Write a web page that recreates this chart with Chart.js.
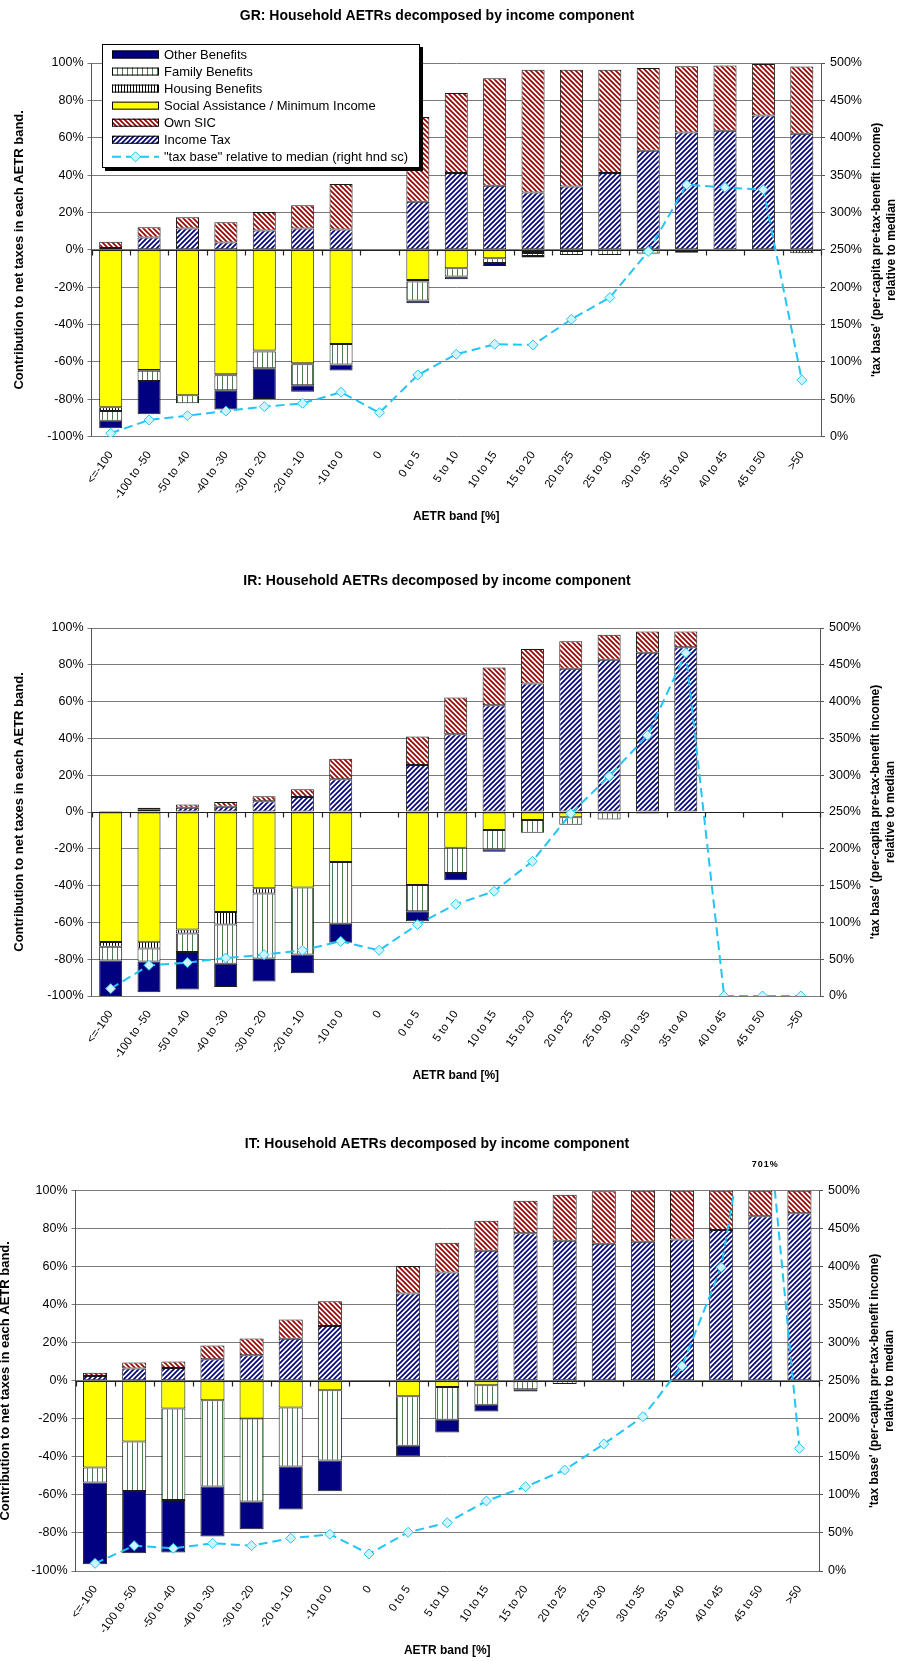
<!DOCTYPE html>
<html>
<head>
<meta charset="utf-8">
<title>Household AETRs decomposed by income component</title>
<script src="https://cdn.jsdelivr.net/npm/chart.js@4.4.0/dist/chart.umd.min.js"></script>
<style>
  body { margin: 0; background: #fff; }
  #wrap { position: relative; width: 900px; height: 1661px; overflow: hidden; }
  canvas { position: absolute; left: 0; }
</style>
</head>
<body>
<div id="wrap">
  <canvas id="grChart" width="900" height="545" style="top:0px"></canvas>
  <canvas id="irChart" width="900" height="563" style="top:545px"></canvas>
  <canvas id="itChart" width="900" height="553" style="top:1108px"></canvas>
</div>
<script>
// AETR bands (x categories)
var bands = ['<=-100', '-100 to -50', '-50 to -40', '-40 to -30', '-30 to -20', '-20 to -10', '-10 to 0', '0',
  '0 to 5', '5 to 10', '10 to 15', '15 to 20', '20 to 25', '25 to 30', '30 to 35', '35 to 40', '40 to 45', '45 to 50', '>50'];

// GR
var grIncomeTax = [1.0, 6.6, 11.4, 3.9, 10.3, 11.4, 10.9, null, 25.7, 41.1, 34.3, 30.7, 33.9, 41.1, 53.0, 62.8, 63.7, 71.9, 62.1];
var grOwnSIC = [3.4, 5.5, 6.1, 10.9, 9.9, 12.5, 24.3, null, 45.4, 42.8, 57.5, 65.7, 62.5, 55.3, 44.3, 35.4, 34.9, 27.6, 36.0];
var grSocialAssist = [-84.3, -64.3, -77.8, -66.6, -53.9, -60.7, -50.4, null, -16.1, -9.8, -4.5, -1.2, -0.6, null, null, null, null, null, null];
var grHousing = [-1.9, -0.4, null, -0.5, -0.5, -0.5, null, null, -0.9, null, null, -0.5, null, null, null, -1.2, null, null, -1.8];
var grFamily = [-5.2, -5.5, -4.3, -8.0, -9.0, -11.3, -11.0, null, -10.1, -4.5, -2.6, -1.6, -2.1, -2.7, -2.0, null, -0.8, -0.3, null];
var grOther = [-4.1, -17.8, null, -10.3, -16.4, -3.4, -3.2, null, -1.5, -1.4, -1.5, -0.8, null, null, -0.3, -0.3, null, null, null];
var grTaxBase = [4.6, 22.4, 28.1, 34.4, 40.2, 44.7, 59.5, 32.1, 82.6, 110.3, 123.7, 122.8, 157.2, 186.2, 247.8, 337.1, 333.5, 330.4, 75.9];

// IR
var irIncomeTax = [0.2, 1.2, 2.3, 2.9, 5.8, 8.2, 17.8, null, 25.6, 42.2, 58.0, 69.9, 77.9, 82.8, 86.6, 89.5, null, null, null];
var irOwnSIC = [0.2, 1.1, 1.8, 2.5, 2.7, 4.1, 11.2, null, 15.4, 20.0, 20.5, 18.7, 14.9, 13.5, 11.5, 8.6, null, null, null];
var irSocialAssist = [-70.7, -70.5, -63.8, -54.3, -41.5, -41.1, -27.2, null, -39.7, -19.4, -9.8, -4.4, -2.9, null, null, null, null, null, null];
var irHousing = [-2.5, -3.7, -2.2, -6.8, -2.8, null, null, null, null, null, null, null, null, null, null, null, null, null, null];
var irFamily = [-7.5, -7.0, -10.1, -21.4, -35.3, -36.4, -33.5, null, -14.2, -13.8, -10.5, -6.9, -4.0, -4.1, null, null, null, null, null];
var irOther = [-19.3, -16.7, -20.3, -12.6, -12.5, -10.2, -10.4, null, -5.5, -3.9, -1.3, null, null, null, -0.8, -0.5, null, null, null];
var irTaxBase = [10.0, 41.7, 45.4, 51.6, 56.2, 62.1, 74.3, 62.1, 97.0, 124.6, 142.3, 183.0, 247.8, 298.5, 354.2, 466.0, 0, 0, 0];

// IT
var itIncomeTax = [2.6, 6.5, 6.7, 11.4, 13.5, 22.1, 28.8, null, 46.0, 57.0, 68.4, 77.6, 73.7, 72.1, 73.2, 74.4, 79.3, 86.5, 88.1];
var itOwnSIC = [1.6, 3.2, 3.5, 7.2, 8.8, 10.2, 13.0, null, 14.4, 15.6, 15.8, 17.1, 24.2, 27.6, 26.8, 25.6, 20.7, 13.5, 11.9];
var itSocialAssist = [-45.6, -31.9, -14.5, -10.2, -19.8, -14.0, -4.9, null, -8.1, -3.2, -2.3, null, null, null, null, null, null, null, null];
var itHousing = [null, null, null, null, null, null, null, null, null, null, null, null, null, null, null, null, null, null, null];
var itFamily = [-7.9, -26.0, -48.1, -45.4, -43.7, -31.1, -37.0, null, -26.0, -17.3, -10.3, -4.4, -1.6, -0.5, null, null, null, null, null];
var itOther = [-43.0, -32.8, -27.7, -26.3, -14.6, -22.6, -16.2, null, -5.7, -6.7, -3.5, -1.2, null, null, null, null, null, null, null];
var itTaxBase = [10.1, 33.3, 29.8, 36.4, 33.3, 43.0, 48.3, 22.4, 50.9, 63.5, 92.0, 110.8, 132.8, 167.0, 202.9, 269.5, 399.3, 701.0, 161.3];

var FONT = '"Liberation Sans", Arial, sans-serif';
var LINE_COLOR = '#22C5F5';

// fill patterns like the excel ones
function makePattern(kind) {
  var c = document.createElement('canvas');
  var p = c.getContext('2d');
  if (kind === 'tax' || kind === 'sic') {
    var s = 5;
    c.width = s; c.height = s;
    p.fillStyle = '#fff';
    p.fillRect(0, 0, s, s);
    p.strokeStyle = kind === 'tax' ? '#000080' : '#990000';
    p.lineWidth = 1.7;
    p.beginPath();
    if (kind === 'tax') {
      p.moveTo(-1, s + 1); p.lineTo(s + 1, -1);
      p.moveTo(-2, 2); p.lineTo(2, -2);
      p.moveTo(s - 2, s + 2); p.lineTo(s + 2, s - 2);
    } else {
      p.moveTo(-1, -1); p.lineTo(s + 1, s + 1);
      p.moveTo(s - 2, -2); p.lineTo(s + 2, 2);
      p.moveTo(-2, s - 2); p.lineTo(2, s + 2);
    }
    p.stroke();
  } else if (kind === 'family') {
    c.width = 5; c.height = 4;
    p.fillStyle = '#fff';
    p.fillRect(0, 0, 5, 4);
    p.fillStyle = '#4f7a4f';
    p.fillRect(2, 0, 1, 4);
  } else {
    c.width = 3; c.height = 4;
    p.fillStyle = '#fff';
    p.fillRect(0, 0, 3, 4);
    p.fillStyle = '#000';
    p.fillRect(1, 0, 1, 4);
  }
  return document.createElement('canvas').getContext('2d').createPattern(c, 'repeat');
}

var fills = {
  tax: makePattern('tax'),
  sic: makePattern('sic'),
  family: makePattern('family'),
  housing: makePattern('housing'),
  social: '#FFFF00',
  other: '#000080'
};

// titles and axis titles
var chartTexts = {
  id: 'chartTexts',
  afterDraw: function(chart, args, o) {
    var a = chart.chartArea;
    var ctx = chart.ctx;
    ctx.save();
    ctx.fillStyle = '#000';
    ctx.textAlign = 'center';
    ctx.textBaseline = 'middle';
    ctx.font = 'bold 14px ' + FONT;
    ctx.fillText(o.title, 437, a.top - 47);
    ctx.font = 'bold 12px ' + FONT;
    ctx.fillText('AETR band [%]', (a.left + a.right) / 2, a.bottom + 80);

    ctx.save();
    ctx.translate(o.leftX, (a.top + a.bottom) / 2);
    ctx.rotate(-Math.PI / 2);
    ctx.font = 'bold 13px ' + FONT;
    ctx.fillText('Contribution to net taxes in each AETR band.', 0, 0);
    ctx.restore();

    ctx.save();
    ctx.translate(a.right + 56, (a.top + a.bottom) / 2);
    ctx.rotate(-Math.PI / 2);
    ctx.font = 'bold 12px ' + FONT;
    ctx.fillText("'tax base' (per-capita pre-tax-benefit income)", 0, 0);
    ctx.fillText('relative to median', 0, 15);
    ctx.restore();
    ctx.restore();
  }
};

// category axis crossing at 0 with outside tick marks
var zeroAxis = {
  id: 'zeroAxis',
  beforeDatasetDraw: function(chart, args) {
    if (args.meta.type !== 'line') return;
    var a = chart.chartArea;
    var y0 = Math.round(chart.scales.y.getPixelForValue(0)) + 0.5;
    var n = chart.data.labels.length;
    var w = (a.right - a.left) / n;
    var ctx = chart.ctx;
    ctx.save();
    ctx.strokeStyle = '#222';
    ctx.lineWidth = 1.2;
    ctx.beginPath();
    ctx.moveTo(a.left, y0);
    ctx.lineTo(a.right, y0);
    for (var i = 0; i <= n; i++) {
      var x = Math.round(a.left + i * w) + 0.5;
      ctx.moveTo(x, y0);
      ctx.lineTo(x, y0 + 5);
    }
    ctx.stroke();
    ctx.restore();
  }
};

// value label for points off the top of the right scale
var overLabel = {
  id: 'overLabel',
  afterDraw: function(chart) {
    var yR = chart.scales.yR;
    chart.data.datasets.forEach(function(ds, di) {
      if (ds.type !== 'line') return;
      var meta = chart.getDatasetMeta(di);
      ds.data.forEach(function(v, i) {
        if (v > yR.max) {
          var ctx = chart.ctx;
          ctx.save();
          ctx.fillStyle = '#000';
          ctx.font = 'bold 9px ' + FONT;
          ctx.textAlign = 'center';
          ctx.textBaseline = 'middle';
          if ('letterSpacing' in ctx) ctx.letterSpacing = '1px';
          ctx.fillText(Math.round(v) + '%', meta.data[i].x + 5, chart.chartArea.top - 26);
          ctx.restore();
        }
      });
    });
  }
};

// boxed legend inside the plot (GR chart)
var boxLegend = {
  id: 'boxLegend',
  afterDraw: function(chart, args, o) {
    if (!o || !o.display) return;
    var ctx = chart.ctx;
    var ds = chart.data.datasets;
    ctx.save();
    ctx.fillStyle = '#000';
    ctx.fillRect(o.x + 3, o.y + 3, o.w, o.h);
    ctx.fillStyle = '#fff';
    ctx.fillRect(o.x, o.y, o.w, o.h);
    ctx.strokeStyle = '#000';
    ctx.lineWidth = 1;
    ctx.strokeRect(o.x + 0.5, o.y + 0.5, o.w - 1, o.h - 1);
    ctx.font = '13px ' + FONT;
    ctx.textBaseline = 'middle';
    ctx.textAlign = 'left';
    o.order.forEach(function(di, row) {
      var d = ds[di];
      var cy = o.y + 10.5 + row * 17.05;
      var sx = o.x + 10, sw = 47;
      if (d.type === 'line') {
        ctx.save();
        ctx.strokeStyle = d.borderColor;
        ctx.lineWidth = 2;
        ctx.setLineDash([9, 5]);
        ctx.beginPath();
        ctx.moveTo(sx, cy);
        ctx.lineTo(sx + sw, cy);
        ctx.stroke();
        ctx.setLineDash([]);
        var cx = sx + sw / 2;
        ctx.beginPath();
        ctx.moveTo(cx - 5, cy); ctx.lineTo(cx, cy - 5); ctx.lineTo(cx + 5, cy); ctx.lineTo(cx, cy + 5);
        ctx.closePath();
        ctx.fillStyle = d.pointBackgroundColor;
        ctx.fill();
        ctx.lineWidth = 1;
        ctx.strokeStyle = d.pointBorderColor;
        ctx.stroke();
        ctx.restore();
      } else {
        ctx.fillStyle = d.backgroundColor;
        ctx.fillRect(sx, cy - 4, sw, 8);
        ctx.strokeStyle = '#000';
        ctx.lineWidth = 1;
        ctx.strokeRect(sx + 0.5, cy - 3.5, sw - 1, 7);
      }
      ctx.fillStyle = '#000';
      ctx.fillText(d.label, o.x + 62, cy + 0.5);
    });
    ctx.restore();
  }
};

function barSet(label, data, fill, barPct) {
  return {
    label: label,
    data: data,
    backgroundColor: fill,
    borderColor: '#1a1a1a',
    borderWidth: 1,
    borderSkipped: false,
    barPercentage: barPct,
    categoryPercentage: 1,
    stack: 'contrib',
    yAxisID: 'y',
    order: 1
  };
}

function makeChart(id, s, layout) {
  var datasets = [
    barSet('Income Tax', s.tax, fills.tax, layout.barPct),
    barSet('Own SIC', s.sic, fills.sic, layout.barPct),
    barSet('Social Assistance / Minimum Income', s.social, fills.social, layout.barPct),
    barSet('Housing Benefits', s.housing, fills.housing, layout.barPct),
    barSet('Family Benefits', s.family, fills.family, layout.barPct),
    barSet('Other Benefits', s.other, fills.other, layout.barPct),
    {
      type: 'line',
      label: '"tax base" relative to median (right hnd sc)',
      data: s.base,
      yAxisID: 'yR',
      borderColor: LINE_COLOR,
      borderWidth: 2,
      borderDash: [9, 5],
      pointStyle: 'rectRot',
      pointRadius: 5,
      pointBackgroundColor: '#CCF5FF',
      pointBorderColor: LINE_COLOR,
      pointBorderWidth: 1,
      tension: 0,
      fill: false,
      order: 0
    }
  ];
  return new Chart(document.getElementById(id), {
    type: 'bar',
    data: { labels: bands, datasets: datasets },
    options: {
      responsive: false,
      animation: false,
      events: [],
      layout: { padding: { top: layout.top, left: 0, right: 0, bottom: 0 } },
      plugins: {
        legend: { display: false },
        tooltip: { enabled: false },
        title: { display: false },
        chartTexts: { title: s.title, leftX: layout.leftTitleX },
        boxLegend: layout.legend || { display: false }
      },
      scales: {
        x: {
          stacked: true,
          grid: { display: false, drawTicks: false },
          border: { display: false },
          ticks: {
            autoSkip: false,
            minRotation: 55,
            maxRotation: 55,
            padding: 12,
            color: '#000',
            font: { family: FONT, size: 11.5 }
          },
          afterFit: function(sc) { sc.height = layout.xHeight; }
        },
        y: {
          stacked: true,
          min: -100,
          max: 100,
          ticks: {
            stepSize: 20,
            padding: 4,
            color: '#000',
            font: { family: FONT, size: 12.5 },
            callback: function(v) { return v + '%'; }
          },
          grid: { color: '#7a7a7a', lineWidth: 1, tickLength: 4 },
          border: { display: true, color: '#555', width: 1 },
          afterFit: function(sc) { sc.width = layout.leftW; }
        },
        yR: {
          position: 'right',
          min: 0,
          max: 500,
          ticks: {
            stepSize: 50,
            padding: 5,
            color: '#000',
            font: { family: FONT, size: 12.5 },
            callback: function(v) { return v + '%'; }
          },
          grid: { drawOnChartArea: false, color: '#555', tickLength: 4 },
          border: { display: true, color: '#555', width: 1 },
          afterFit: function(sc) { sc.width = layout.rightW; }
        }
      }
    },
    plugins: [chartTexts, zeroAxis, overLabel, boxLegend]
  });
}

document.addEventListener('DOMContentLoaded', function() {
  makeChart('grChart', {
    title: 'GR: Household AETRs decomposed by income component',
    tax: grIncomeTax, sic: grOwnSIC, social: grSocialAssist, housing: grHousing,
    family: grFamily, other: grOther, base: grTaxBase
  }, {
    top: 63, leftW: 91.5, rightW: 79, xHeight: 108.3, barPct: 0.6, leftTitleX: 19,
    legend: { display: true, x: 102, y: 44, w: 318, h: 124, order: [5, 4, 3, 2, 1, 0, 6] }
  });

  makeChart('irChart', {
    title: 'IR: Household AETRs decomposed by income component',
    tax: irIncomeTax, sic: irOwnSIC, social: irSocialAssist, housing: irHousing,
    family: irFamily, other: irOther, base: irTaxBase
  }, { top: 83, leftW: 91.5, rightW: 80, xHeight: 112, barPct: 0.6, leftTitleX: 19 });

  makeChart('itChart', {
    title: 'IT: Household AETRs decomposed by income component',
    tax: itIncomeTax, sic: itOwnSIC, social: itSocialAssist, housing: itHousing,
    family: itFamily, other: itOther, base: itTaxBase
  }, { top: 82.7, leftW: 75.5, rightW: 81, xHeight: 90, barPct: 0.615, leftTitleX: 5 });
});
</script>
</body>
</html>
